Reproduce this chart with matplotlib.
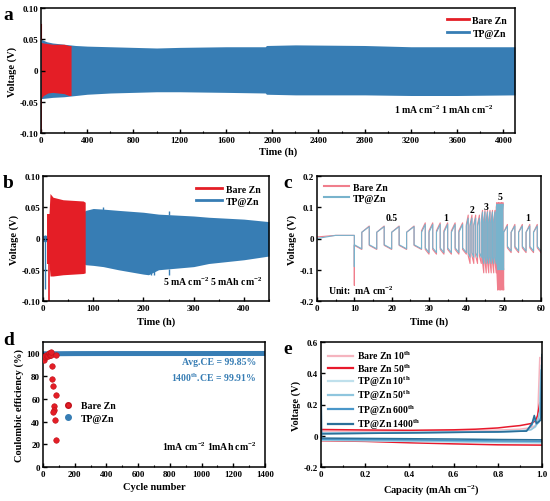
import numpy as np
import matplotlib
matplotlib.use("Agg")
import matplotlib.pyplot as plt
from matplotlib.lines import Line2D
from matplotlib.ticker import MultipleLocator

plt.rcParams['font.family'] = ['Liberation Serif', 'DejaVu Serif']
plt.rcParams['font.weight'] = 'bold'
plt.rcParams['axes.labelweight'] = 'bold'
plt.rcParams['mathtext.default'] = 'regular'
plt.rcParams['axes.unicode_minus'] = False
plt.rcParams['xtick.direction'] = 'in'
plt.rcParams['ytick.direction'] = 'in'
plt.rcParams['axes.linewidth'] = 1.1

RED = '#e41e26'
BLUE = '#377db4'

# ---------------- panel a data (envelopes of the dense cycling) ----------------
a_tp_t = [0, 50, 100, 200, 300, 400, 600, 800, 1000, 1200, 1600, 1940, 1950, 2200, 2800, 3200, 3600, 4100]
a_tp_hi = [0.050, 0.046, 0.044, 0.042, 0.040, 0.039, 0.038, 0.037, 0.036, 0.037, 0.038, 0.038, 0.040, 0.041, 0.040, 0.038, 0.038, 0.038]
a_tp_lo = [-0.045, -0.044, -0.043, -0.042, -0.040, -0.038, -0.036, -0.035, -0.034, -0.034, -0.035, -0.036, -0.038, -0.039, -0.039, -0.040, -0.040, -0.039]
a_bare_t = [0, 20, 60, 100, 150, 200, 240, 260]
a_bare_hi = [0.045, 0.044, 0.043, 0.042, 0.042, 0.042, 0.040, 0.040]
a_bare_lo = [-0.045, -0.040, -0.036, -0.035, -0.036, -0.037, -0.040, -0.040]

# ---------------- panel b data ----------------
b_tp_t = [0, 8, 85, 100, 120, 150, 200, 210, 230, 300, 330, 400, 450]
b_tp_hi = [0.005, 0.005, 0.045, 0.048, 0.047, 0.045, 0.042, 0.041, 0.039, 0.036, 0.034, 0.031, 0.027]
b_tp_lo = [-0.005, -0.005, -0.042, -0.043, -0.045, -0.050, -0.057, -0.058, -0.050, -0.045, -0.040, -0.034, -0.028]
b_tp_spike_t = [4, 216, 221, 250, 250, 120]
b_tp_spike_from = [0.005, -0.050, -0.050, -0.049, 0.037, 0.046]
b_tp_spike_to = [-0.080, -0.058, -0.058, -0.058, 0.044, 0.050]
b_bare_t = [7, 12, 14, 20, 40, 60, 80, 84]
b_bare_hi = [0.040, 0.040, 0.072, 0.066, 0.062, 0.061, 0.060, 0.058]
b_bare_lo = [-0.040, -0.040, -0.060, -0.060, -0.058, -0.057, -0.056, -0.055]

# ---------------- panel c data (rate test) ----------------
c_current = ['0.5', '1', '2', '3', '5', '1']
c_bounds = [10, 28, 40, 44, 48, 50, 60]
c_half = [2.0, 1.0, 0.5, 1 / 3, 0.2, 1.0]
c_rest_t = [0, 5, 10]
c_bare_rest = [0.005, 0.010, 0.010]
c_tp_rest = [0.000, 0.010, 0.010]
c_bare_spike = -0.150
c_tp_spike = -0.090
c_bare_pos = [(0.020, 0.040), (0.025, 0.050), (0.045, 0.075), (0.060, 0.090), (0.100, 0.115), (0.020, 0.045)]
c_bare_neg = [(-0.022, -0.035), (-0.035, -0.050), (-0.055, -0.080), (-0.075, -0.110), (-0.110, -0.165), (-0.030, -0.045)]
c_tp_pos = [(0.020, 0.038), (0.020, 0.045), (0.040, 0.065), (0.050, 0.085), (0.080, 0.110), (0.020, 0.040)]
c_tp_neg = [(-0.020, -0.033), (-0.030, -0.045), (-0.045, -0.060), (-0.060, -0.080), (-0.080, -0.100), (-0.025, -0.040)]
c_label_t = [20, 34.5, 41.5, 45.2, 49, 56.5]
c_label_v = [0.066, 0.066, 0.094, 0.104, 0.136, 0.066]

# ---------------- panel d data ----------------
d_bare_cycle = [3, 6, 10, 15, 21, 27, 32, 38, 42, 46, 50, 53, 57, 59, 63, 80, 67, 72, 63, 78, 84, 80]
d_bare_ce = [95, 94, 97, 98, 99, 98, 98, 100, 99, 99, 99, 101, 89, 77.5, 71.4, 63, 54, 50, 48, 41.7, 24, 99]
d_tp_cycle = [1, 200, 400, 600, 800, 1000, 1200, 1400]
d_tp_ce = [99.6, 99.8, 99.85, 99.85, 99.85, 99.86, 99.88, 99.91]

# ---------------- panel e data ----------------
e_labels = ['Bare Zn 10$^{th}$', 'Bare Zn 50$^{th}$', 'TP@Zn 10$^{th}$', 'TP@Zn 50$^{th}$', 'TP@Zn 600$^{th}$', 'TP@Zn 1400$^{th}$']
e_colors = ['#f5b4bf', '#e8192c', '#bfe0ec', '#8fc6de', '#4a97c9', '#2b6f98']
e_pos_x = [
    [0, 0.2, 0.4, 0.6, 0.8, 0.9, 0.95, 0.97, 0.98, 0.985, 0.99],
    [0, 0.2, 0.4, 0.6, 0.7, 0.8, 0.85, 0.9, 0.95, 0.97, 0.98, 0.99],
    [0, 0.2, 0.5, 0.8, 0.9, 0.95, 0.97, 0.98, 0.99, 0.995],
    [0, 0.2, 0.5, 0.8, 0.9, 0.95, 0.97, 0.98, 0.99, 0.995],
    [0, 0.2, 0.5, 0.8, 0.93, 0.955, 0.965, 0.975, 0.985, 0.995, 0.998],
    [0, 0.2, 0.5, 0.8, 0.93, 0.955, 0.965, 0.975, 0.985, 0.995, 1.0],
]
e_pos_v = [
    [0.030, 0.030, 0.030, 0.032, 0.036, 0.042, 0.052, 0.065, 0.10, 0.30, 0.50],
    [0.040, 0.037, 0.035, 0.038, 0.042, 0.050, 0.058, 0.065, 0.078, 0.095, 0.13, 0.21],
    [0.018, 0.020, 0.024, 0.028, 0.032, 0.040, 0.055, 0.080, 0.15, 0.40],
    [0.016, 0.018, 0.022, 0.026, 0.030, 0.038, 0.060, 0.085, 0.16, 0.42],
    [0.014, 0.016, 0.020, 0.024, 0.030, 0.070, 0.115, 0.075, 0.085, 0.12, 0.45],
    [0.012, 0.015, 0.020, 0.025, 0.030, 0.080, 0.130, 0.080, 0.090, 0.100, 0.52],
]
e_neg_x = [0, 0.2, 0.4, 0.6, 0.8, 1.0]
e_neg_v = [
    [-0.022, -0.024, -0.028, -0.032, -0.036, -0.038],
    [-0.032, -0.036, -0.045, -0.052, -0.058, -0.060],
    [-0.030, -0.032, -0.036, -0.040, -0.044, -0.046],
    [-0.028, -0.030, -0.033, -0.036, -0.040, -0.042],
    [-0.022, -0.024, -0.026, -0.030, -0.033, -0.035],
    [-0.015, -0.017, -0.019, -0.021, -0.024, -0.026],
]
e_start_v = 0.38

TICK_FS = 6.5
LAB_FS = 7.5
LEG_FS = 7

fig = plt.figure(figsize=(5.5, 5.02), dpi=100)


def style(ax):
    ax.tick_params(which='major', length=3, width=1, labelsize=TICK_FS, pad=2)
    ax.tick_params(which='minor', length=1.6, width=0.8)
    for lab in ax.get_xticklabels() + ax.get_yticklabels():
        lab.set_fontweight('bold')


# ---------------- panel a ----------------
axa = fig.add_axes([41 / 550, 1 - 134 / 502, 474 / 550, 125 / 502])
axa.fill_between(a_tp_t, a_tp_lo, a_tp_hi, color=BLUE, lw=0)
axa.fill_between(a_bare_t, a_bare_lo, a_bare_hi, color=RED, lw=0)
axa.plot([1, 1], [-0.045, -0.10], color=RED, lw=1.2)
axa.plot([2, 2], [0.050, 0.075], color=RED, lw=0.8)
axa.set_xlim(0, 4100)
axa.set_ylim(-0.1, 0.1)
axa.set_xticks(np.arange(0, 4001, 400))
axa.xaxis.set_minor_locator(MultipleLocator(200))
axa.set_yticks([-0.1, -0.05, 0, 0.05, 0.1])
axa.set_yticklabels(['-0.10', '-0.05', '0', '0.05', '0.10'])
axa.set_xlabel('Time (h)', fontsize=LAB_FS, labelpad=2)
axa.set_ylabel('Voltage (V)', fontsize=LAB_FS, labelpad=2)
style(axa)
axa.legend(handles=[Line2D([], [], color=RED, lw=2), Line2D([], [], color=BLUE, lw=2)],
           labels=['Bare Zn', 'TP@Zn'], loc='upper right', frameon=False, fontsize=LEG_FS,
           handlelength=2.2, handletextpad=0.4, labelspacing=0.4, borderaxespad=0.4)
axa.text(0.955, 0.19, '1 mA cm$^{-2}$ 1 mAh cm$^{-2}$', transform=axa.transAxes,
         ha='right', va='center', fontsize=LEG_FS, fontweight='bold')
fig.text(3 / 550, 1 - 16 / 502, 'a', fontsize=14, fontweight='bold', va='center')

# ---------------- panel b ----------------
axb = fig.add_axes([43 / 550, 1 - 302 / 502, 226 / 550, 125 / 502])
axb.fill_between(b_tp_t, b_tp_lo, b_tp_hi, color=BLUE, lw=0)
axb.vlines(b_tp_spike_t, b_tp_spike_from, b_tp_spike_to, color=BLUE, lw=1.0)
axb.fill_between(b_bare_t, b_bare_lo, b_bare_hi, color=RED, lw=0)
axb.plot([12, 12], [-0.04, -0.10], color=RED, lw=1.2)
axb.set_xlim(0, 450)
axb.set_ylim(-0.1, 0.1)
axb.set_xticks(np.arange(0, 401, 100))
axb.xaxis.set_minor_locator(MultipleLocator(50))
axb.set_yticks([-0.1, -0.05, 0, 0.05, 0.1])
axb.set_yticklabels(['-0.10', '-0.05', '0', '0.05', '0.10'])
axb.set_xlabel('Time (h)', fontsize=LAB_FS, labelpad=3)
axb.set_ylabel('Voltage (V)', fontsize=LAB_FS, labelpad=2)
style(axb)
axb.legend(handles=[Line2D([], [], color=RED, lw=2), Line2D([], [], color=BLUE, lw=2)],
           labels=['Bare Zn', 'TP@Zn'], loc='upper right', frameon=False, fontsize=LEG_FS,
           handlelength=2.6, handletextpad=0.4, labelspacing=0.3, borderaxespad=0.5)
axb.text(0.97, 0.16, '5 mA cm$^{-2}$ 5 mAh cm$^{-2}$', transform=axb.transAxes,
         ha='right', va='center', fontsize=LEG_FS, fontweight='bold')
fig.text(3 / 550, 1 - 184 / 502, 'b', fontsize=14, fontweight='bold', va='center')

# ---------------- panel c ----------------


def build_path(rest_v, spike, pos, neg):
    t = list(c_rest_t)
    v = list(rest_v)
    t.append(c_bounds[0])
    v.append(spike)
    sign = -1
    for i in range(len(c_half)):
        start, end, hp = c_bounds[i], c_bounds[i + 1], c_half[i]
        n = int(round((end - start) / hp))
        for k in range(n):
            ts = start + k * hp
            te = ts + hp
            vs, ve = neg[i] if sign < 0 else pos[i]
            t += [ts, te]
            v += [vs, ve]
            sign = -sign
    return t, v


axc = fig.add_axes([317 / 550, 1 - 302 / 502, 224 / 550, 125 / 502])
CBARE = '#f07e8c'
CTP = '#78b3cc'
tb, vb = build_path(c_bare_rest, c_bare_spike, c_bare_pos, c_bare_neg)
tt, vt = build_path(c_tp_rest, c_tp_spike, c_tp_pos, c_tp_neg)
axc.plot(tb, vb, color=CBARE, lw=0.8)
axc.plot(tt, vt, color=CTP, lw=0.8)
for lab, tx, vy in zip(c_current, c_label_t, c_label_v):
    axc.text(tx, vy, lab, ha='center', va='center', fontsize=7, fontweight='bold')
axc.set_xlim(0, 60)
axc.set_ylim(-0.2, 0.2)
axc.set_xticks(np.arange(0, 61, 10))
axc.xaxis.set_minor_locator(MultipleLocator(5))
axc.set_yticks([-0.2, -0.1, 0, 0.1, 0.2])
axc.set_yticklabels(['-0.2', '-0.1', '0', '0.1', '0.2'])
axc.set_xlabel('Time (h)', fontsize=LAB_FS, labelpad=3)
axc.set_ylabel('Voltage (V)', fontsize=LAB_FS, labelpad=2)
style(axc)
axc.legend(handles=[Line2D([], [], color=CBARE, lw=1.5), Line2D([], [], color=CTP, lw=1.5)],
           labels=['Bare Zn', 'TP@Zn'], loc='upper left', frameon=False, fontsize=LEG_FS,
           handlelength=2.6, handletextpad=0.4, labelspacing=0.2, borderaxespad=0.3)
axc.text(3, -0.163, 'Unit:  mA cm$^{-2}$', ha='left', va='center', fontsize=LEG_FS, fontweight='bold')
fig.text(283 / 550, 1 - 184 / 502, 'c', fontsize=14, fontweight='bold', va='center')

# ---------------- panel d ----------------
axd = fig.add_axes([43 / 550, 1 - 468 / 502, 222 / 550, 125 / 502])
axd.plot(d_tp_cycle, d_tp_ce, color=BLUE, lw=3.6, solid_capstyle='round', zorder=2)
axd.plot(d_bare_cycle, d_bare_ce, ls='none', marker='o', ms=4, mfc=RED, mec='#c0101a', mew=0.4, zorder=3)
axd.set_xlim(0, 1400)
axd.set_ylim(0, 110)
axd.set_xticks(np.arange(0, 1401, 200))
axd.xaxis.set_minor_locator(MultipleLocator(100))
axd.set_yticks(np.arange(0, 101, 20))
axd.set_xlabel('Cycle number', fontsize=LAB_FS, labelpad=3)
axd.set_ylabel('Coulombic efficiency (%)', fontsize=LAB_FS, labelpad=2)
style(axd)
axd.legend(handles=[Line2D([], [], ls='none', marker='o', ms=4, mfc=RED, mec='#c0101a'),
                    Line2D([], [], ls='none', marker='o', ms=4, mfc=BLUE, mec=BLUE)],
           labels=['Bare Zn', 'TP@Zn'], loc='center left', bbox_to_anchor=(0.03, 0.44),
           frameon=False, fontsize=LEG_FS, handletextpad=0.3, labelspacing=0.35)
axd.text(0.96, 0.84, 'Avg.CE = 99.85%', transform=axd.transAxes, ha='right', va='center',
         fontsize=LEG_FS, fontweight='bold', color=BLUE)
axd.text(0.96, 0.72, '1400$^{th}$.CE = 99.91%', transform=axd.transAxes, ha='right', va='center',
         fontsize=LEG_FS, fontweight='bold', color=BLUE)
axd.text(0.96, 0.17, '1mA cm$^{-2}$ 1mAh cm$^{-2}$', transform=axd.transAxes, ha='right', va='center',
         fontsize=LEG_FS, fontweight='bold')
fig.text(3 / 550, 1 - 341 / 502, 'd', fontsize=14, fontweight='bold', va='center')

# ---------------- panel e ----------------
axe = fig.add_axes([321 / 550, 1 - 468 / 502, 221 / 550, 125 / 502])
handles = []
for i in range(6):
    lw = 1.1
    if i == 5:
        axe.plot([0, 0.003] + e_neg_x[1:], [e_start_v, e_neg_v[5][0]] + e_neg_v[5][1:], color=e_colors[i], lw=lw)
    else:
        axe.plot(e_neg_x, e_neg_v[i], color=e_colors[i], lw=lw)
    axe.plot(e_pos_x[i], e_pos_v[i], color=e_colors[i], lw=lw)
    handles.append(Line2D([], [], color=e_colors[i], lw=1.6))
axe.set_xlim(0, 1.0)
axe.set_ylim(-0.2, 0.6)
axe.set_xticks(np.arange(0, 1.01, 0.2))
axe.set_xticklabels(['0', '0.2', '0.4', '0.6', '0.8', '1.0'])
axe.xaxis.set_minor_locator(MultipleLocator(0.1))
axe.set_yticks([-0.2, 0, 0.2, 0.4, 0.6])
axe.set_yticklabels(['-0.2', '0', '0.2', '0.4', '0.6'])
axe.set_xlabel('Capacity (mAh cm$^{-2}$)', fontsize=LAB_FS, labelpad=3)
axe.set_ylabel('Voltage (V)', fontsize=LAB_FS, labelpad=2)
style(axe)
axe.legend(handles=handles, labels=e_labels, loc='upper left', frameon=False, fontsize=LEG_FS,
           handlelength=2.6, handletextpad=0.4, labelspacing=0.0, borderaxespad=0.3)
fig.text(283 / 550, 1 - 349 / 502, 'e', fontsize=14, fontweight='bold', va='center')

fig.savefig('out.png', dpi=100)
